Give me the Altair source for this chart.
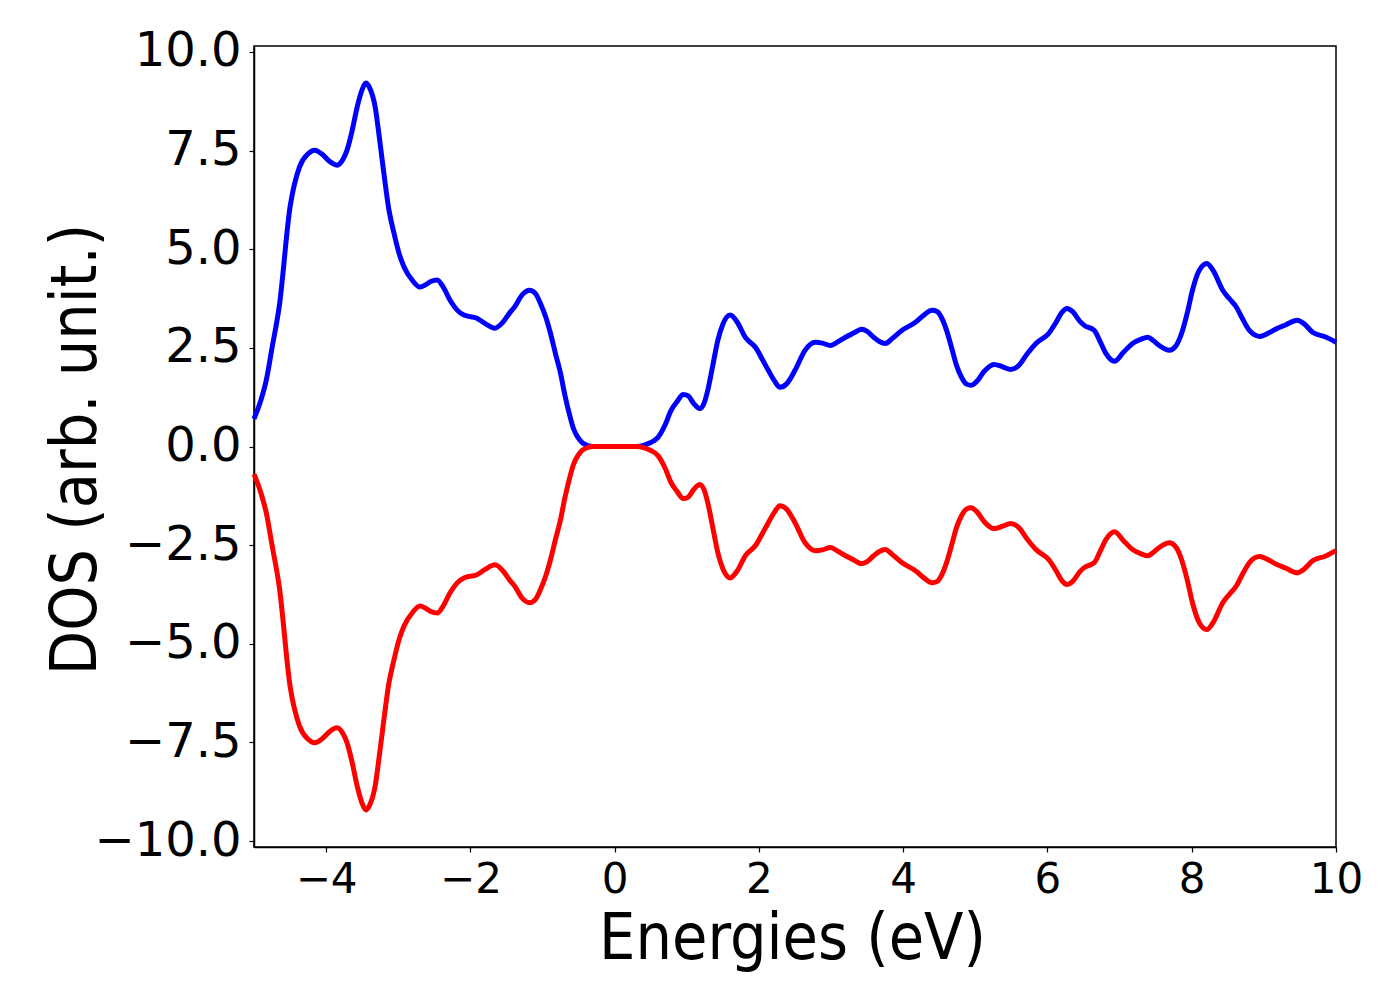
import altair as alt
import pandas as pd

energies = [
    -5.0, -4.9, -4.83, -4.75, -4.65, -4.5, -4.37, -4.25, -4.16, -4.05, -3.95, -3.85,
    -3.76, -3.71, -3.64, -3.57, -3.5, -3.45, -3.4, -3.32, -3.26, -3.2, -3.13, -3.06,
    -2.99, -2.92, -2.8, -2.7, -2.62, -2.55, -2.46, -2.38, -2.28, -2.18, -2.09, -1.91,
    -1.8, -1.66, -1.55, -1.45, -1.39, -1.28, -1.18, -1.1, -1.03, -0.95, -0.89, -0.82,
    -0.75, -0.69, -0.63, -0.57, -0.51, -0.45, -0.38, -0.3, 0.0, 0.3, 0.4, 0.5,
    0.6, 0.7, 0.78, 0.87, 0.95, 1.02, 1.1, 1.18, 1.24, 1.29, 1.36, 1.43,
    1.5, 1.6, 1.7, 1.81, 1.96, 2.05, 2.13, 2.22, 2.29, 2.38, 2.5, 2.64,
    2.78, 2.88, 2.99, 3.1, 3.2, 3.32, 3.42, 3.5, 3.59, 3.67, 3.75, 3.85,
    3.98, 4.17, 4.3, 4.4, 4.47, 4.53, 4.6, 4.67, 4.74, 4.81, 4.88, 4.94,
    5.02, 5.12, 5.26, 5.38, 5.49, 5.6, 5.72, 5.84, 6.02, 6.12, 6.2, 6.27,
    6.35, 6.45, 6.51, 6.65, 6.73, 6.81, 6.93, 7.05, 7.18, 7.3, 7.39, 7.47,
    7.55, 7.69, 7.78, 7.86, 7.94, 8.01, 8.1, 8.21, 8.3, 8.43, 8.52, 8.62,
    8.7, 8.8, 8.94, 9.05, 9.18, 9.3, 9.46, 9.55, 9.68, 9.85, 10.0,
]

dos_up = [
    0.70, 1.20, 1.68, 2.50, 3.55, 6.07, 7.08, 7.42, 7.51, 7.40, 7.22, 7.13,
    7.30, 7.51, 8.00, 8.60, 9.05, 9.21, 9.10, 8.60, 7.80, 6.93, 6.00, 5.41,
    4.90, 4.55, 4.20, 4.04, 4.10, 4.18, 4.22, 4.05, 3.70, 3.45, 3.33, 3.25,
    3.12, 3.00, 3.15, 3.40, 3.53, 3.85, 3.96, 3.88, 3.63, 3.25, 2.87, 2.35,
    1.85, 1.30, 0.84, 0.45, 0.23, 0.10, 0.03, 0.00, 0.00, 0.00, 0.03, 0.10,
    0.23, 0.55, 0.91, 1.15, 1.32, 1.28, 1.08, 0.96, 1.10, 1.42, 2.05, 2.69,
    3.10, 3.33, 3.15, 2.77, 2.49, 2.20, 1.93, 1.65, 1.50, 1.58, 1.93, 2.44,
    2.64, 2.62, 2.56, 2.66, 2.77, 2.88, 2.97, 2.92, 2.77, 2.66, 2.61, 2.74,
    2.94, 3.15, 3.35, 3.45, 3.42, 3.27, 2.95, 2.51, 2.05, 1.75, 1.58, 1.55,
    1.65, 1.90, 2.08, 2.02, 1.95, 2.05, 2.35, 2.61, 2.87, 3.15, 3.40, 3.50,
    3.42, 3.17, 3.07, 2.94, 2.66, 2.36, 2.16, 2.38, 2.61, 2.72, 2.77, 2.68,
    2.56, 2.44, 2.55, 2.87, 3.40, 3.96, 4.45, 4.64, 4.45, 3.96, 3.75, 3.53,
    3.25, 2.94, 2.79, 2.86, 2.99, 3.08, 3.20, 3.12, 2.89, 2.78, 2.64,
]

dos_down = [
    -0.70, -1.20, -1.68, -2.50, -3.55, -6.07, -7.08, -7.42, -7.51, -7.40, -7.22, -7.13,
    -7.30, -7.51, -8.00, -8.60, -9.05, -9.21, -9.10, -8.60, -7.80, -6.93, -6.00, -5.41,
    -4.90, -4.55, -4.20, -4.04, -4.10, -4.18, -4.22, -4.05, -3.70, -3.45, -3.33, -3.25,
    -3.12, -3.00, -3.15, -3.40, -3.53, -3.85, -3.96, -3.88, -3.63, -3.25, -2.87, -2.35,
    -1.85, -1.30, -0.84, -0.45, -0.23, -0.10, -0.03, 0.00, 0.00, 0.00, -0.03, -0.10,
    -0.23, -0.55, -0.91, -1.15, -1.32, -1.28, -1.08, -0.96, -1.10, -1.42, -2.05, -2.69,
    -3.10, -3.33, -3.15, -2.77, -2.49, -2.20, -1.93, -1.65, -1.50, -1.58, -1.93, -2.44,
    -2.64, -2.62, -2.56, -2.66, -2.77, -2.88, -2.97, -2.92, -2.77, -2.66, -2.61, -2.74,
    -2.94, -3.15, -3.35, -3.45, -3.42, -3.27, -2.95, -2.51, -2.05, -1.75, -1.58, -1.55,
    -1.65, -1.90, -2.08, -2.02, -1.95, -2.05, -2.35, -2.61, -2.87, -3.15, -3.40, -3.50,
    -3.42, -3.17, -3.07, -2.94, -2.66, -2.36, -2.16, -2.38, -2.61, -2.72, -2.77, -2.68,
    -2.56, -2.44, -2.55, -2.87, -3.40, -3.96, -4.45, -4.64, -4.45, -3.96, -3.75, -3.53,
    -3.25, -2.94, -2.79, -2.86, -2.99, -3.08, -3.20, -3.12, -2.89, -2.78, -2.64,
]

x_ticks = [-4, -2, 0, 2, 4, 6, 8, 10]
y_ticks = [-10.0, -7.5, -5.0, -2.5, 0.0, 2.5, 5.0, 7.5, 10.0]

up_df = pd.DataFrame({"E": energies, "DOS": dos_up, "order": range(len(energies))})
down_df = pd.DataFrame({"E": energies, "DOS": dos_down, "order": range(len(energies))})

FONT = "DejaVu Sans"
TITLE_FONT = "DejaVu Sans Condensed, DejaVu Sans"

x_enc = alt.X(
    "E:Q",
    scale=alt.Scale(domain=[-5, 10], nice=False, zero=False),
    axis=alt.Axis(
        values=x_ticks, format="d", title="Energies (eV)", grid=False,
        labelFont=FONT, labelFontSize=42, labelColor="black", labelPadding=7,
        labelFlush=False, labelOverlap=False,
        tickSize=5, tickWidth=1.2, tickColor="black",
        domainColor="black", domainWidth=1.5,
        titleFont=TITLE_FONT, titleFontSize=64, titleFontWeight="normal", titleColor="black",
        titleX=538, titleY=111, titleBaseline="alphabetic", titleAlign="center",
    ),
)
y_enc = alt.Y(
    "DOS:Q",
    scale=alt.Scale(domain=[-10.15, 10.15], nice=False, zero=False),
    axis=alt.Axis(
        values=y_ticks, format=".1f", title="DOS (arb. unit.)", grid=False,
        labelFont=FONT, labelFontSize=48, labelColor="black", labelPadding=8,
        labelFlush=False, labelOverlap=False,
        tickSize=5, tickWidth=1.2, tickColor="black",
        domainColor="black", domainWidth=1.5,
        titleFont=TITLE_FONT, titleFontSize=64, titleFontWeight="normal", titleColor="black",
        titleX=-159, titleY=403, titleBaseline="alphabetic", titleAlign="center", titleAngle=270,
    ),
)

up = alt.Chart(up_df).mark_line(color="#0000ff", strokeWidth=5, interpolate="monotone").encode(
    x=x_enc, y=y_enc, order="order:Q"
)
down = alt.Chart(down_df).mark_line(color="#ff0000", strokeWidth=5, interpolate="monotone").encode(
    x="E:Q", y="DOS:Q", order="order:Q"
)

chart = (
    alt.layer(up, down)
    .properties(
        width=1082, height=801,
        autosize=alt.AutoSizeParams(type="none"),
        padding={"left": 246, "top": 38, "right": 50, "bottom": 140},
        background="white",
    )
    .configure_view(stroke="black", strokeWidth=1.5)
)

chart.save("out.html", embed_options={"renderer": "svg", "actions": False})
